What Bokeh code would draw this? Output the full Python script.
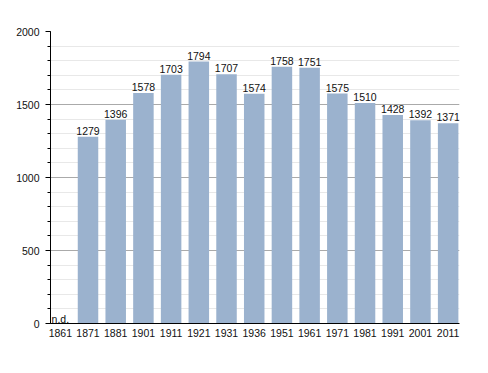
from bokeh.plotting import figure
from bokeh.models import ColumnDataSource, FixedTicker, SingleIntervalTicker, Range1d
from bokeh.core.properties import value
from bokeh.embed import file_html
from bokeh.resources import INLINE

years = ["1861", "1871", "1881", "1901", "1911", "1921", "1931", "1936",
         "1951", "1961", "1971", "1981", "1991", "2001", "2011"]
population = [None, 1279, 1396, 1578, 1703, 1794, 1707, 1574,
              1758, 1751, 1575, 1510, 1428, 1392, 1371]
missing_label = "n.d."

idx = [i for i, v in enumerate(population) if v is not None]
vals = [population[i] for i in idx]
src = ColumnDataSource(dict(x=idx, top=vals, label=[str(v) for v in vals]))

FONT = "Liberation Sans"
FS = "10.5px"

p = figure(width=480, height=365, output_backend="svg", toolbar_location=None,
           x_range=Range1d(-0.354, 14.41), y_range=Range1d(0, 2000),
           min_border_left=50, min_border_right=21, min_border_top=31, min_border_bottom=42)
p.outline_line_color = None
p.background_fill_color = "white"

p.vbar(x="x", top="top", width=0.74, source=src, fill_color="#9bb2ce", line_color=None)
p.text(x="x", y="top", text="label", source=src, text_align="center",
       text_baseline="alphabetic", y_offset=-6, text_font=value(FONT),
       text_font_size=FS, text_color="#111111")
p.text(x=[0], y=[0], text=[missing_label], text_align="center",
       text_baseline="alphabetic", y_offset=-5, text_font=value(FONT),
       text_font_size=FS, text_color="#111111")

p.xgrid.grid_line_color = None
p.ygrid.grid_line_color = "#aaaaaa"
p.ygrid.minor_grid_line_color = "#e8e8e8"

p.yaxis.ticker = SingleIntervalTicker(interval=500, num_minor_ticks=5)
p.yaxis.axis_line_color = "black"
p.yaxis.major_tick_out = 5
p.yaxis.major_tick_in = 0
p.yaxis.minor_tick_out = 3
p.yaxis.minor_tick_in = 0
p.yaxis.major_label_standoff = 6
p.yaxis.major_label_text_font = FONT
p.yaxis.major_label_text_font_size = FS
p.yaxis.major_label_text_color = "#111111"

p.xaxis.ticker = FixedTicker(ticks=list(range(len(years))))
p.xaxis.major_label_overrides = {i: y for i, y in enumerate(years)}
p.xaxis.axis_line_color = "black"
p.xaxis.major_tick_out = 0
p.xaxis.major_tick_in = 0
p.xaxis.minor_tick_line_color = None
p.xaxis.major_label_standoff = 5
p.xaxis.major_label_text_font = FONT
p.xaxis.major_label_text_font_size = FS
p.xaxis.major_label_text_color = "#111111"

open("out.html", "w").write(file_html(p, INLINE))
